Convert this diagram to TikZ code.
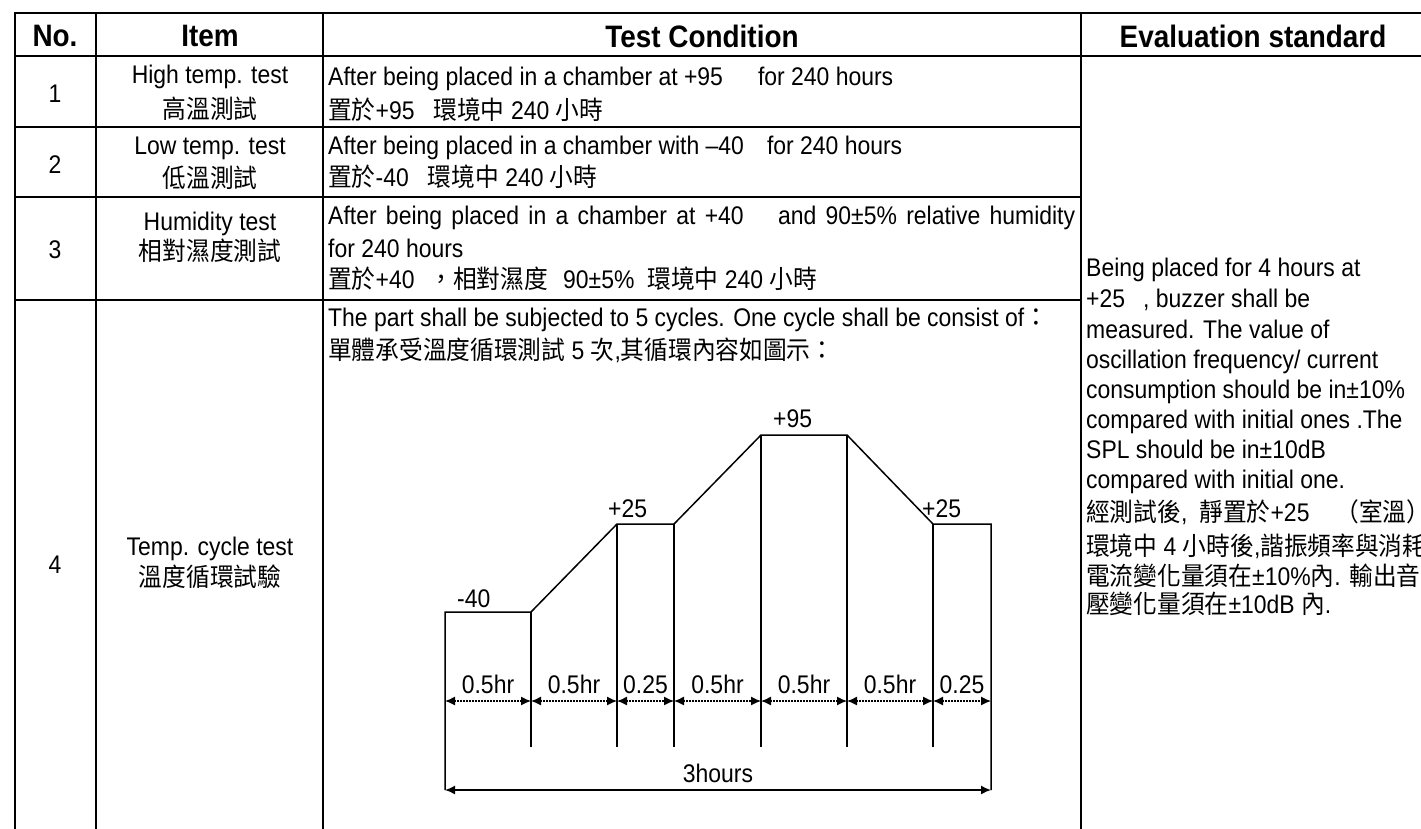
\documentclass[tikz,border=0pt]{standalone}
\usepackage{fontspec}
\setmainfont{Liberation Sans}[FakeStretch=0.9]
\newfontfamily\cjkfont{Noto Sans CJK TC}[FakeStretch=0.93]
\newcommand{\zh}[1]{{\cjkfont #1}}
\usetikzlibrary{arrows.meta}

\begin{document}
\begin{tikzpicture}[x=1pt, y=-1pt,
  txt/.style={font=\fontsize{25.5}{30}\selectfont, inner sep=0pt},
  hd/.style={font=\fontsize{31}{36}\selectfont\bfseries, inner sep=0pt},
  rule/.style={line width=2.4pt, line cap=rect},
  trace/.style={line width=1.5pt},
  span/.style={line width=1.3pt, dash pattern=on 1.2pt off 1.8pt,
    {Latex[length=10pt,width=9pt]}-{Latex[length=10pt,width=9pt]}},
  total/.style={line width=1.5pt,
    {Latex[length=10pt,width=9pt]}-{Latex[length=10pt,width=9pt]}}]
  % Fix the page and cut the table at its edges
  \useasboundingbox (0,0) rectangle (1421,828);
  \clip (0,0) rectangle (1421,828);

  % Draw the table rules
  \draw[rule] (15,13) -- (1421,13);
  \draw[rule] (15,56) -- (1421,56);
  \foreach \y in {127,197,300} \draw[rule] (15,\y) -- (1081,\y);
  \foreach \x in {15,96,323,1081} \draw[rule] (\x,13) -- (\x,828);

  % Header row
  \node[hd] (hno) at (55,36) {No.};
  \node[hd] (hitem) at (210,36) {Item};
  \node[hd] (hcond) at (702,36) {Test Condition};
  \node[hd] (heval) at (1253,36) {Evaluation standard};

  % Numbers
  \node[txt] (n1) at (55,94) {1};
  \node[txt] (n2) at (55,165) {2};
  \node[txt] (n3) at (55,250) {3};
  \node[txt] (n4) at (55,565) {4};

  % Items
  \node[txt, anchor=base] (i1a) at (210,83) {High temp. test};
  \node[txt, anchor=base] (i1b) at (210,118) {\zh{高溫測試}};
  \node[txt, anchor=base] (i2a) at (210,154) {Low temp. test};
  \node[txt, anchor=base] (i2b) at (210,187) {\zh{低溫測試}};
  \node[txt, anchor=base] (i3a) at (210,230) {Humidity test};
  \node[txt, anchor=base] (i3b) at (210,260) {\zh{相對濕度測試}};
  \node[txt, anchor=base] (i4a) at (210,555) {Temp. cycle test};
  \node[txt, anchor=base] (i4b) at (210,586) {\zh{溫度循環試驗}};

  % Test conditions
  \node[txt, anchor=base west] (c1a) at (328,85) {After being placed in a chamber at +95\hspace{35pt}for 240 hours};
  \node[txt, anchor=base west] (c1b) at (328,119) {\zh{置於}+95\hspace{19pt}\zh{環境中} 240 \zh{小時}};
  \node[txt, anchor=base west] (c2a) at (328,154) {After being placed in a chamber with –40\hspace{23pt}for 240 hours};
  \node[txt, anchor=base west] (c2b) at (328,186) {\zh{置於}-40\hspace{19pt}\zh{環境中} 240 \zh{小時}};
  \node[txt, anchor=base west] (c3a) at (328,224) {\makebox[747pt][s]{After being placed in a chamber at +40\hspace{25pt} and 90±5\% relative humidity}};
  \node[txt, anchor=base west] (c3b) at (328,257) {for 240 hours};
  \node[txt, anchor=base west] (c3c) at (328,288) {\zh{置於}+40\hspace{15pt}\zh{，相對濕度}\hspace{15pt}90±5\%\hspace{13pt}\zh{環境中} 240 \zh{小時}};
  \node[txt, anchor=base west] (c4a) at (328,326) {The part shall be subjected to 5 cycles. One cycle shall be consist of\zh{：}};
  \node[txt, anchor=base west] (c4b) at (328,359) {\zh{單體承受溫度循環測試} 5 \zh{次},\zh{其循環內容如圖示：}};

  % Evaluation standard
  \foreach \y/\t [count=\i] in {
      276/{Being placed for 4 hours at},
      307/{+25\hspace{18pt}, buzzer shall be},
      338/{measured. The value of},
      368/{oscillation frequency/ current},
      398/{consumption should be in±10\%},
      428/{compared with initial ones .The},
      458/{SPL should be in±10dB},
      488/{compared with initial one.},
      521/{\zh{經測試後},\hspace{12pt}\zh{靜置於}+25\hspace{26pt}\zh{（室溫）}},
      555/{\zh{環境中} 4 \zh{小時後},\zh{諧振頻率與消耗}},
      585/{\zh{電流變化量須在}±10\%\zh{內}. \zh{輸出音}},
      613/{\zh{壓變化量須在}±10dB \zh{內}.}}
    \node[txt, anchor=base west] (e\i) at (1086,\y) {\t};

  % Temperature profile of one cycle
  \coordinate (t0) at (445,612);
  \coordinate (t1) at (531,612);
  \coordinate (t2) at (617,524);
  \coordinate (t3) at (674,524);
  \coordinate (t4) at (761,435);
  \coordinate (t5) at (847,435);
  \coordinate (t6) at (933,524);
  \coordinate (t7) at (991,524);
  \coordinate (s0) at (445,790);
  \coordinate (s1) at (991,790);
  \draw[trace] (s0) -- (t0) -- (t1) -- (t2) -- (t3) -- (t4) -- (t5) -- (t6) -- (t7) -- (s1);
  \foreach \p in {1,...,6} \draw[trace] (t\p) -- (t\p |- 0,747);

  \node[txt, anchor=base west] (lo) at (457,607) {-40};
  \node[txt, anchor=base west] (midA) at (608,517) {+25};
  \node[txt, anchor=base west] (hi) at (773,427) {+95};
  \node[txt, anchor=base west] (midB) at (922,517) {+25};

  % Step lengths
  \foreach \p in {0,...,7} \coordinate (m\p) at (t\p |- 0,701);
  \foreach \a/\b/\l in {0/1/0.5hr, 1/2/0.5hr, 2/3/0.25, 3/4/0.5hr, 4/5/0.5hr, 5/6/0.5hr, 6/7/0.25}
    \draw[span] (m\a) -- node[txt, anchor=base, yshift=8pt] (w\a) {\l} (m\b);

  % Whole cycle
  \draw[total] (s0) -- node[txt, anchor=base, yshift=8pt] (tot) {3hours} (s1);
\end{tikzpicture}
\end{document}
